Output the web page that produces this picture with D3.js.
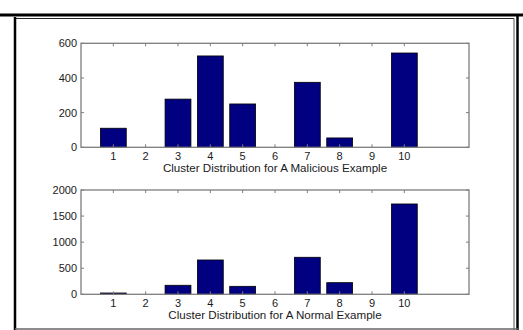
<!DOCTYPE html>
<html>
<head>
<meta charset="utf-8">
<script src="https://cdn.jsdelivr.net/npm/d3@7"></script>
<style>
  html, body { margin: 0; padding: 0; background: #fff; }
  svg { display: block; }
  text { font-family: "Liberation Sans", Arial, sans-serif; fill: #1a1a1a; }
</style>
</head>
<body>
<svg id="chart" width="523" height="330"></svg>
<script>
// Cluster ids shared by both panels
const clusters = [1, 2, 3, 4, 5, 6, 7, 8, 9, 10];

// Counts per cluster for the malicious sample
const maliciousCounts = [110, 0, 278, 527, 250, 0, 375, 54, 0, 544];
// Counts per cluster for the normal sample
const normalCounts = [25, 0, 173, 658, 153, 0, 710, 223, 0, 1732];

const maliciousTicks = [0, 200, 400, 600];
const normalTicks = [0, 500, 1000, 1500, 2000];

const panelTitles = [
  "Cluster Distribution for A Malicious Example",
  "Cluster Distribution for A Normal Example"
];

const svg = d3.select("#chart");
const W = 523, H = 330;

// Figure frame
svg.append("rect").attr("x", 0).attr("y", 0).attr("width", W).attr("height", H).attr("fill", "#fff");
svg.append("line").attr("x1", 0).attr("x2", W).attr("y1", 15).attr("y2", 15)
  .attr("stroke", "#000").attr("stroke-width", 3);
svg.append("line").attr("x1", 15).attr("x2", 15).attr("y1", 17).attr("y2", H)
  .attr("stroke", "#000").attr("stroke-width", 2.5);
svg.append("line").attr("x1", 517.5).attr("x2", 517.5).attr("y1", 14).attr("y2", H)
  .attr("stroke", "#000").attr("stroke-width", 2.5);
svg.append("line").attr("x1", 16).attr("x2", 514).attr("y1", 18.5).attr("y2", 18.5)
  .attr("stroke", "#222").attr("stroke-width", 1);
svg.append("line").attr("x1", 514).attr("x2", 514).attr("y1", 18.5).attr("y2", H)
  .attr("stroke", "#555").attr("stroke-width", 1);
svg.append("line").attr("x1", 15).attr("x2", 518).attr("y1", 329).attr("y2", 329)
  .attr("stroke", "#666").attr("stroke-width", 1.5);

const axisLeft = 81, axisRight = 469;
const x = d3.scaleLinear().domain([0, 12]).range([axisLeft, axisRight]);
const barW = (x(1) - x(0)) * 0.8;

function drawPanel(values, ticks, title, top, bottom) {
  const ymax = ticks[ticks.length - 1];
  const y = d3.scaleLinear().domain([0, ymax]).range([bottom, top]);
  const g = svg.append("g");
  const tickLen = 3;
  const axisColor = "#7d7d7d";

  // bars
  g.selectAll("rect.bar").data(clusters.map((c, i) => ({ c, v: values[i] })))
    .join("rect")
    .attr("class", "bar")
    .attr("x", d => x(d.c) - barW / 2)
    .attr("y", d => y(d.v))
    .attr("width", barW)
    .attr("height", d => y(0) - y(d.v))
    .attr("fill", "#000080")
    .attr("stroke", "#000")
    .attr("stroke-width", d => d.v > 0 ? 0.8 : 0);

  // axis box
  g.append("rect")
    .attr("x", axisLeft).attr("y", top)
    .attr("width", axisRight - axisLeft).attr("height", bottom - top)
    .attr("fill", "none").attr("stroke", axisColor).attr("stroke-width", 1.3);

  // inward ticks on top/bottom
  const xTicks = g.append("g");
  clusters.forEach(c => {
    xTicks.append("line").attr("x1", x(c)).attr("x2", x(c))
      .attr("y1", top).attr("y2", top + tickLen).attr("stroke", axisColor);
    xTicks.append("line").attr("x1", x(c)).attr("x2", x(c))
      .attr("y1", bottom).attr("y2", bottom - tickLen).attr("stroke", axisColor);
  });
  // inward ticks on left/right
  ticks.forEach(t => {
    g.append("line").attr("x1", axisLeft).attr("x2", axisLeft + tickLen)
      .attr("y1", y(t)).attr("y2", y(t)).attr("stroke", axisColor);
    g.append("line").attr("x1", axisRight).attr("x2", axisRight - tickLen)
      .attr("y1", y(t)).attr("y2", y(t)).attr("stroke", axisColor);
  });

  // tick labels
  g.selectAll("text.xl").data(clusters).join("text")
    .attr("class", "xl")
    .attr("x", d => x(d)).attr("y", bottom + 13)
    .attr("text-anchor", "middle").attr("font-size", 11)
    .text(d => d);
  g.selectAll("text.yl").data(ticks).join("text")
    .attr("class", "yl")
    .attr("x", axisLeft - 4).attr("y", d => y(d) + 4)
    .attr("text-anchor", "end").attr("font-size", 11)
    .text(d => d);

  g.append("text")
    .attr("x", (axisLeft + axisRight) / 2).attr("y", bottom + 25)
    .attr("text-anchor", "middle").attr("font-size", 11.6)
    .text(title);
}

drawPanel(maliciousCounts, maliciousTicks, panelTitles[0], 43.3, 147.3);
drawPanel(normalCounts, normalTicks, panelTitles[1], 190, 294.3);
</script>
</body>
</html>
